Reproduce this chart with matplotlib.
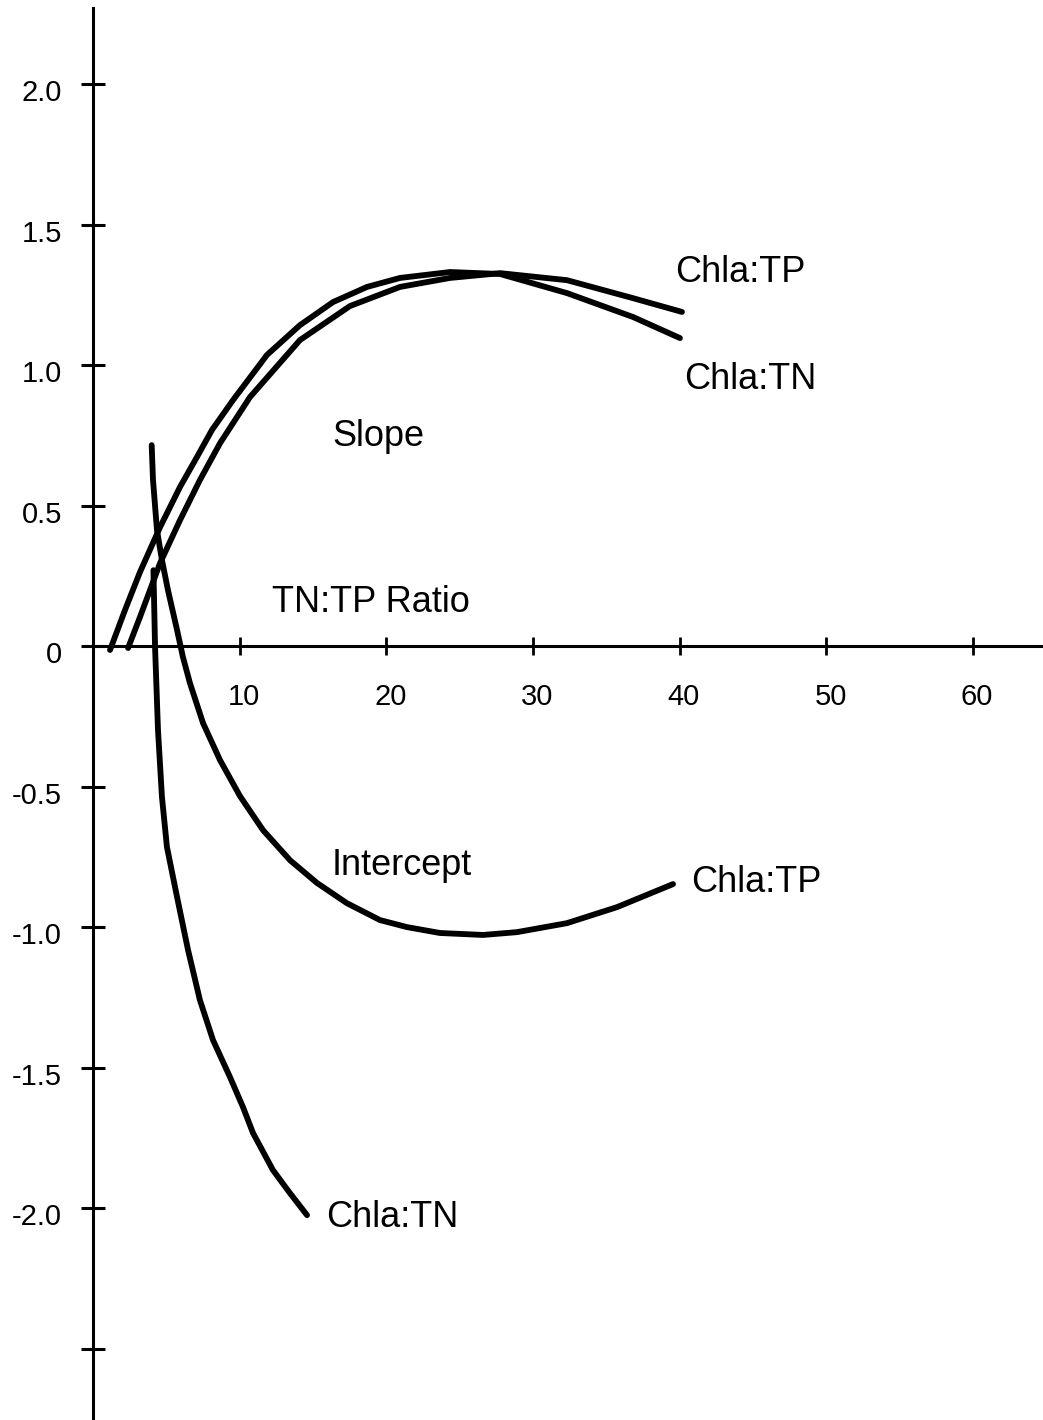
import numpy as np
import matplotlib
matplotlib.use("Agg")
import matplotlib.pyplot as plt
import matplotlib.transforms as mtransforms

plt.rcParams['font.family'] = ['Liberation Sans', 'DejaVu Sans']

# slope curves (TN:TP ratio, slope)
slope_tn_x = [1.16, 2.18, 3.20, 4.57, 5.93, 7.09, 8.11, 9.54, 11.86, 14.11, 16.36, 18.68, 20.93, 24.34, 27.75, 32.31, 36.81, 40.01]
slope_tn_y = [-0.014, 0.128, 0.263, 0.423, 0.566, 0.673, 0.769, 0.875, 1.036, 1.142, 1.224, 1.278, 1.310, 1.331, 1.324, 1.256, 1.171, 1.096]
slope_tp_x = [2.39, 3.20, 4.57, 5.93, 7.29, 8.66, 10.70, 14.11, 17.52, 20.93, 24.34, 27.75, 32.31, 36.81, 40.15]
slope_tp_y = [-0.007, 0.103, 0.295, 0.448, 0.591, 0.722, 0.886, 1.089, 1.210, 1.278, 1.310, 1.327, 1.302, 1.238, 1.189]

# intercept curves
int_tp_x = [4.0, 4.09, 4.36, 4.70, 5.11, 5.73, 6.13, 6.61, 7.50, 8.66, 10.02, 11.59, 13.43, 15.27, 17.31, 19.56,
            21.40, 23.65, 26.58, 28.90, 32.31, 35.72, 39.54]
int_tp_y = [0.715, 0.591, 0.413, 0.306, 0.199, 0.057, -0.039, -0.132, -0.274, -0.406, -0.534, -0.655, -0.762, -0.843,
            -0.915, -0.975, -1.0, -1.021, -1.028, -1.018, -0.986, -0.929, -0.847]
int_tn_x = [4.12, 4.23, 4.43, 4.70, 5.04, 5.73, 6.48, 7.29, 8.18, 9.34, 10.22, 10.91, 12.27, 13.43, 14.59]
int_tn_y = [0.27, -0.004, -0.299, -0.537, -0.715, -0.893, -1.082, -1.260, -1.402, -1.534, -1.64, -1.733, -1.865, -1.947, -2.025]

yticks = [2.0, 1.5, 1.0, 0.5, 0, -0.5, -1.0, -1.5, -2.0, -2.5]
ylabels = ['2.0', '1.5', '1.0', '0.5', '0', '-0.5', '-1.0', '-1.5', '-2.0', '']
xticks = [10, 20, 30, 40, 50, 60]
xlabels = ['10', '20', '30', '40', '50', '60']

fig = plt.figure(figsize=(10.43, 14.2), dpi=100)
ax = fig.add_axes([0, 0, 1, 1])
ax.set_xlim(-6.34, 64.76)
ax.set_ylim(-2.754, 2.299)

lw = 4.2
for xs, ys in [(slope_tn_x, slope_tn_y), (slope_tp_x, slope_tp_y),
               (int_tp_x, int_tp_y), (int_tn_x, int_tn_y)]:
    ax.plot(xs, ys, color='black', lw=lw, solid_capstyle='round', solid_joinstyle='round')

ax.spines['top'].set_visible(False)
ax.spines['right'].set_visible(False)
ax.spines['left'].set_position(('data', 0))
ax.spines['bottom'].set_position(('data', 0))
ax.spines['left'].set_bounds(-2.754, 2.27)
ax.spines['bottom'].set_bounds(0, 64.76)
ax.spines['left'].set_linewidth(2.2)
ax.spines['bottom'].set_linewidth(2.2)

ax.set_yticks(yticks)
ax.set_yticklabels(ylabels)
ax.set_xticks(xticks)
ax.set_xticklabels(xlabels)
ax.tick_params(axis='y', direction='inout', length=17, width=2.2, pad=14, labelsize=21)
ax.tick_params(axis='x', direction='inout', length=13, width=2.0, pad=20, labelsize=21)

# labels sit a little below their ticks in the original
shift = mtransforms.ScaledTranslation(0, -6 / 100, fig.dpi_scale_trans)
for lab in ax.get_yticklabels():
    lab.set_transform(lab.get_transform() + shift)
shift_x = mtransforms.ScaledTranslation(4 / 100, 0, fig.dpi_scale_trans)
for lab in ax.get_xticklabels():
    lab.set_transform(lab.get_transform() + shift_x)

fs = 26
ax.text(39.7, 1.33, 'Chla:TP', fontsize=fs, va='center', ha='left')
ax.text(40.3, 0.947, 'Chla:TN', fontsize=fs, va='center', ha='left')
ax.text(16.3, 0.744, 'Slope', fontsize=fs, va='center', ha='left')
ax.text(12.2, 0.155, 'TN:TP Ratio', fontsize=fs, va='center', ha='left')
ax.text(16.3, -0.78, 'Intercept', fontsize=fs, va='center', ha='left')
ax.text(40.8, -0.84, 'Chla:TP', fontsize=fs, va='center', ha='left')
ax.text(15.9, -2.035, 'Chla:TN', fontsize=fs, va='center', ha='left')

plt.savefig('out.png', dpi=100)
